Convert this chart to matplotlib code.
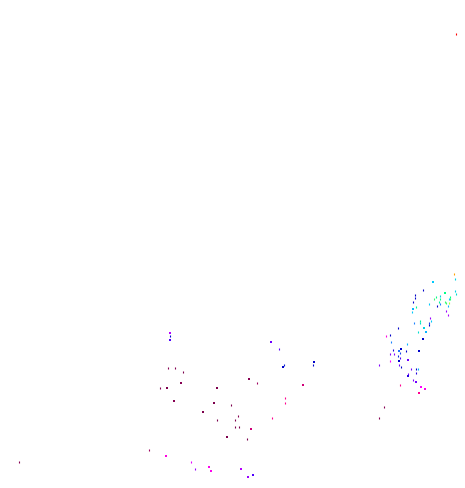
import numpy as np
import matplotlib
matplotlib.use("Agg")
import matplotlib.pyplot as plt
from matplotlib.colors import LinearSegmentedColormap

# point positions (x, y from bottom-left), colour value, weight
x = [456, 454, 455, 433, 423, 455, 456, 445, 436, 434,
     440, 415, 415, 440, 439, 450, 450, 449, 413, 445,
     446, 449, 440, 429, 448, 437, 416, 413, 412, 446,
     448, 430, 431, 420, 420, 429, 429, 414, 424, 398,
     418, 426, 386, 390, 423, 391, 407, 401, 406, 399,
     419, 393, 390, 394, 400, 398, 400, 399, 390, 408,
     379, 399, 401, 416, 418, 411, 416, 408, 408, 413,
     416, 400, 421, 425, 419, 384, 379, 170, 170, 170,
     168, 175, 183, 181, 160, 167, 217, 271, 279, 283,
     284, 314, 313, 249, 257, 303, 285, 174, 214, 203,
     217, 227, 149, 166, 191, 195, 209, 211, 231, 285,
     238, 235, 272, 235, 239, 251, 247, 241, 253, 248,
     19]
y = [454, 214, 209, 206, 198, 197, 194, 195, 191, 189,
     192, 193, 190, 189, 186, 191, 189, 189, 186, 186,
     185, 185, 184, 184, 182, 182, 181, 179, 176, 177,
     173, 170, 167, 167, 165, 165, 163, 165, 160, 160,
     156, 156, 152, 153, 149, 146, 144, 139, 137, 137,
     137, 138, 134, 134, 135, 132, 130, 127, 127, 128,
     123, 123, 121, 119, 119, 119, 115, 112, 114, 108,
     106, 103, 101, 99, 95, 81, 70, 155, 152, 148,
     120, 120, 116, 105, 100, 100, 100, 146, 139, 121,
     123, 126, 123, 109, 105, 103, 90, 87, 85, 76,
     68, 51, 38, 32, 26, 19, 21, 17, 83, 85,
     72, 68, 70, 61, 61, 59, 49, 19, 13, 11,
     26]
c = [1.00, 0.92, 0.70, 0.68, 0.50, 0.70, 0.72, 0.78, 0.78, 0.80,
     0.70, 0.50, 0.50, 0.78, 0.76, 0.78, 0.80, 0.68, 0.50, 0.80,
     0.80, 0.85, 0.60, 0.68, 0.66, 0.50, 0.77, 0.66, 0.68, 0.38,
     0.36, 0.38, 0.68, 0.76, 0.72, 0.55, 0.50, 0.60, 0.70, 0.50,
     0.72, 0.66, 0.25, 0.50, 0.50, 0.60, 0.66, 0.50, 0.50, 0.58,
     0.50, 0.48, 0.40, 0.40, 0.55, 0.53, 0.45, 0.50, 0.27, 0.42,
     0.40, 0.42, 0.50, 0.50, 0.66, 0.42, 0.48, 0.48, 0.42, 0.40,
     0.42, 0.20, 0.27, 0.26, 0.20, 0.05, 0.05, 0.35, 0.50, 0.45,
     0.05, 0.05, 0.03, 0.05, 0.05, 0.03, 0.03, 0.42, 0.44, 0.50,
     0.52, 0.50, 0.50, 0.05, 0.10, 0.15, 0.20, 0.05, 0.03, 0.03,
     0.03, 0.03, 0.10, 0.25, 0.30, 0.38, 0.26, 0.26, 0.03, 0.20,
     0.05, 0.03, 0.20, 0.03, 0.03, 0.15, 0.03, 0.35, 0.45, 0.38,
     0.05]
w = [1, 1, 1, 2, 1, 1, 1, 2, 1, 1,
     1, 1, 1, 1, 1, 1, 1, 1, 1, 1,
     1, 1, 1, 1, 1, 1, 1, 2, 1, 1,
     1, 1, 1, 1, 1, 1, 1, 1, 2, 1,
     1, 2, 1, 1, 2, 1, 1, 2, 1, 2,
     2, 1, 1, 1, 1, 1, 1, 2, 1, 2,
     1, 1, 1, 1, 1, 1, 1, 2, 1, 1,
     2, 1, 2, 2, 2, 1, 1, 2, 1, 2,
     1, 1, 1, 2, 1, 2, 2, 2, 1, 2,
     1, 2, 1, 2, 1, 2, 1, 2, 2, 2,
     1, 2, 1, 2, 1, 1, 2, 2, 1, 1,
     1, 1, 1, 1, 1, 2, 1, 2, 2, 2,
     1]

cmap = LinearSegmentedColormap.from_list("pts", [
    (0.00, "#700045"), (0.10, "#a00060"), (0.20, "#ff0090"),
    (0.27, "#ff00ff"), (0.38, "#9900ff"), (0.45, "#5000ff"),
    (0.50, "#0000c8"), (0.58, "#2070ff"), (0.68, "#00c8ff"),
    (0.78, "#00ff88"), (0.85, "#aaff33"), (0.92, "#ffa500"),
    (1.00, "#ff0000")])

x = np.array(x)
y = np.array(y)
c = np.array(c)
w = np.array(w)

fig = plt.figure(figsize=(4.65, 4.88), dpi=100)
ax = fig.add_axes([0, 0, 1, 1])
ax.set_xlim(0, 465)
ax.set_ylim(0, 488)
ax.axis("off")

small = w == 1
ax.scatter(x[small], y[small], c=c[small], cmap=cmap, vmin=0, vmax=1,
           marker="|", s=4, linewidths=0.8)
ax.scatter(x[~small], y[~small], c=c[~small], cmap=cmap, vmin=0, vmax=1,
           marker="s", s=3.2, linewidths=0)

fig.savefig("out.png", dpi=100)
